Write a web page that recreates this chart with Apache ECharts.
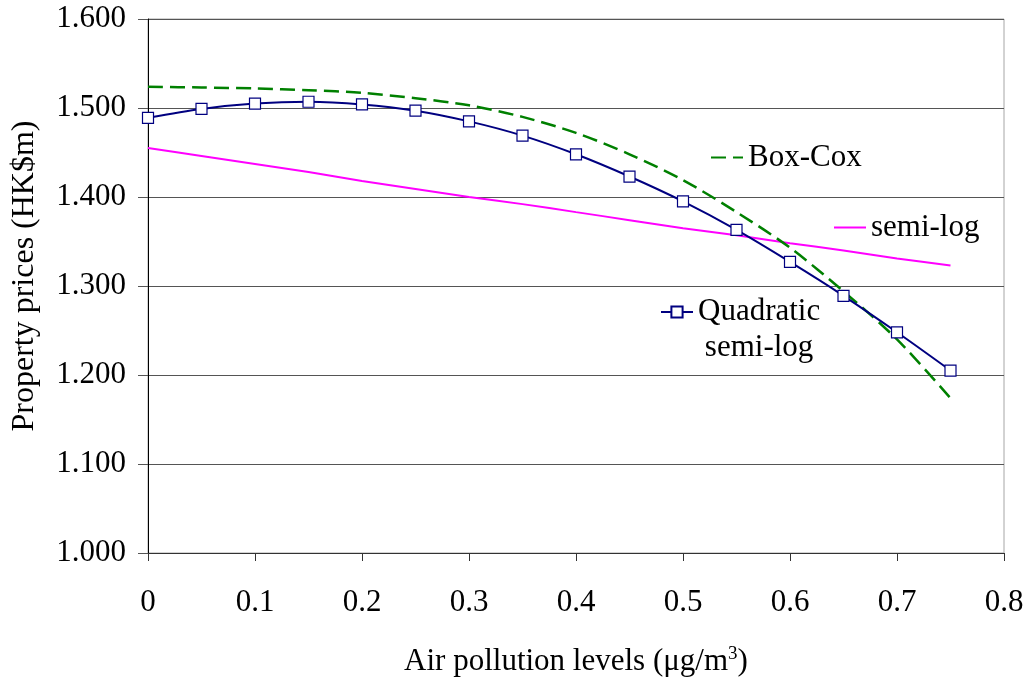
<!DOCTYPE html>
<html>
<head>
<meta charset="utf-8">
<script src="https://cdn.jsdelivr.net/npm/echarts@6/dist/echarts.min.js"></script>
<style>
html,body{margin:0;padding:0;background:#fff;}
#chart{width:1028px;height:678px;}
</style>
</head>
<body>
<div id="chart"></div>
<script>
// Air pollution levels (x) and estimated property prices (HK$m)
const xValues = [0, 0.05, 0.1, 0.15, 0.2, 0.25, 0.3, 0.35, 0.4, 0.45, 0.5, 0.55, 0.6, 0.65, 0.7, 0.75];
const quadraticSemiLog = [1.489, 1.499, 1.505, 1.507, 1.504, 1.497, 1.485, 1.469, 1.448, 1.423, 1.395, 1.363, 1.327, 1.289, 1.248, 1.205];
const semiLog = [1.455, 1.446, 1.437, 1.428, 1.418, 1.409, 1.400, 1.392, 1.383, 1.374, 1.365, 1.357, 1.348, 1.340, 1.331, 1.323];
const boxCox = [1.524, 1.523, 1.522, 1.520, 1.517, 1.511, 1.503, 1.490, 1.472, 1.448, 1.419, 1.383, 1.343, 1.294, 1.240, 1.174];
const xTicks = [0, 0.1, 0.2, 0.3, 0.4, 0.5, 0.6, 0.7, 0.8];
const yTicks = [1.0, 1.1, 1.2, 1.3, 1.4, 1.5, 1.6];

const FONT = 'Liberation Serif';
const FS = 31;
const pairs = arr => xValues.map((x, i) => [x, arr[i]]);

const chart = echarts.init(document.getElementById('chart'), null, {renderer: 'canvas'});
chart.setOption({
  animation: false,
  backgroundColor: '#fff',
  textStyle: {fontFamily: FONT, color: '#000'},
  grid: {left: 148, top: 19, right: 24, bottom: 125, containLabel: false, outerBoundsMode: 'none',
         show: true, borderColor: '#a6a6a6', borderWidth: 1, backgroundColor: 'transparent'},
  xAxis: {
    type: 'value', min: 0, max: 0.8, interval: 0.1,
    name: 'Air pollution levels (μg/m{sup|3})',
    nameLocation: 'middle', nameGap: 92,
    nameTextStyle: {fontFamily: FONT, fontSize: FS, color: '#000', rich: {sup: {fontFamily: FONT, fontSize: 19, color: '#000', verticalAlign: 'top', padding: [0, 0, 15, 0]}}},
    axisLine: {show: true, onZero: false, lineStyle: {color: '#333', width: 1}},
    axisTick: {show: true, inside: false, length: 8, lineStyle: {color: '#333'}},
    axisLabel: {fontFamily: FONT, fontSize: FS, color: '#000', margin: 34,
      formatter: v => { const t = xTicks.find(k => Math.abs(k - v) < 1e-9); return t === undefined ? '' : (t === 0 ? '0' : String(t)); }},
    splitLine: {show: false}
  },
  yAxis: {
    type: 'value', min: 1.0, max: 1.6, interval: 0.1,
    name: 'Property prices (HK$m)',
    nameLocation: 'middle', nameGap: 107, nameRotate: 90,
    nameTextStyle: {fontFamily: FONT, fontSize: 32, color: '#000', padding: [0, 0, 0, 20]},
    axisLine: {show: true, lineStyle: {color: '#000', width: 1}},
    axisTick: {show: true, inside: false, length: 10, lineStyle: {color: '#555'}},
    axisLabel: {fontFamily: FONT, fontSize: FS, color: '#000', margin: 22,
      formatter: v => { const t = yTicks.find(k => Math.abs(k - v) < 1e-9); return t === undefined ? '' : t.toFixed(3); }},
    splitLine: {show: true, lineStyle: {color: '#555', width: 1}}
  },
  legend: [
    {data: ['Box-Cox'], left: 710, top: 142, padding: 0, itemWidth: 32, itemHeight: 14, itemGap: 0,
     itemStyle: {opacity: 0},
     textStyle: {fontFamily: FONT, fontSize: FS, color: '#000', lineHeight: 30}},
    {data: ['semi-log'], left: 833, top: 212, padding: 0, itemWidth: 32, itemHeight: 14, itemGap: 0,
     itemStyle: {opacity: 0},
     textStyle: {fontFamily: FONT, fontSize: FS, color: '#000', lineHeight: 30}},
    {data: ['Quadratic semi-log'], left: 660, top: 258, padding: 0, itemWidth: 32, itemHeight: 14, itemGap: 0,
     formatter: () => '{q|Quadratic}\n{s|semi-log}',
     textStyle: {fontFamily: FONT, fontSize: FS, color: '#000', lineHeight: 36, padding: [36, 0, 0, 0],
       rich: {q: {fontFamily: FONT, fontSize: FS, lineHeight: 36, color: '#000'},
              s: {fontFamily: FONT, fontSize: FS, lineHeight: 36, color: '#000', align: 'center'}}}}
  ],
  series: [
    {
      name: 'semi-log', type: 'line', data: pairs(semiLog),
      symbol: 'none', smooth: 0.3,
      lineStyle: {color: '#ff00ff', width: 2},
      itemStyle: {color: '#ff00ff'},
      z: 2
    },
    {
      name: 'Box-Cox', type: 'line', data: pairs(boxCox),
      symbol: 'none', smooth: 0.3,
      lineStyle: {color: '#008000', width: 2.5, type: [15, 7]},
      itemStyle: {color: '#008000'},
      z: 3
    },
    {
      name: 'Quadratic semi-log', type: 'line', data: pairs(quadraticSemiLog),
      symbol: 'rect', symbolSize: 11, showSymbol: true, smooth: 0.3,
      lineStyle: {color: '#000080', width: 2},
      itemStyle: {color: '#ffffff', borderColor: '#000080', borderWidth: 1.2},
      z: 4
    }
  ]
});
</script>
</body>
</html>
